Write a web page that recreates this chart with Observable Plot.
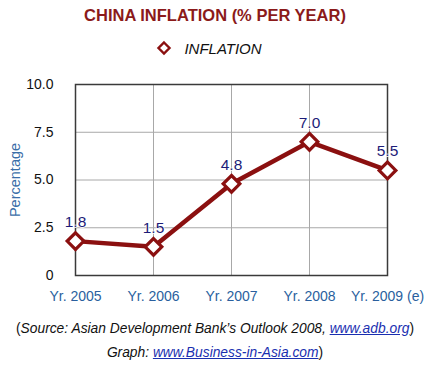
<!DOCTYPE html>
<html>
<head>
<meta charset="utf-8">
<script src="https://cdn.jsdelivr.net/npm/d3@7"></script>
<script src="https://cdn.jsdelivr.net/npm/@observablehq/plot@0.6"></script>
<style>
  body { margin: 0; background: #fff; font-family: "Liberation Sans", Arial, Helvetica, sans-serif; }
  #wrap { width: 430px; position: relative; }
  .title { height: 30px; line-height: 30px; text-align: center; color: #8b1a1a; font-weight: bold; font-size: 16.5px; }
  .legend { height: 36px; display: flex; align-items: center; justify-content: center; font-size: 15px; font-style: italic; color: #111; padding-right: 12px; }
  .legend svg { margin-right: 12px; }
  .cap { text-align: center; font-size: 13.8px; color: #111; }
  .cap a { color: #1a2fb0; text-decoration: underline; }
  .cap1 { margin-top: 1px; height: 24px; line-height: 24px; }
  .cap2 { height: 24px; line-height: 24px; }
  svg text { font-family: "Liberation Sans", Arial, Helvetica, sans-serif; }
</style>
</head>
<body>
<div id="wrap">
  <div class="title">CHINA INFLATION (% PER YEAR)</div>
  <div class="legend"><svg width="16" height="16" viewBox="-8 -8 16 16"><path d="M0,-5.5L5.5,0L0,5.5L-5.5,0Z" fill="#fff" stroke="#8b1010" stroke-width="2.4"/></svg><span>INFLATION</span></div>
  <div id="chart"></div>
  <div class="cap cap1">(<i>Source: Asian Development Bank’s Outlook 2008, <a>www.adb.org</a></i>)</div>
  <div class="cap cap2"><i>Graph: <a>www.Business-in-Asia.com</a></i>)</div>
</div>
<script>
const years = ["Yr. 2005", "Yr. 2006", "Yr. 2007", "Yr. 2008", "Yr. 2009 (e)"];
const inflation = [1.8, 1.5, 4.8, 7.0, 5.5];
const yTicks = [0, 2.5, 5, 7.5, 10];

const data = years.map((y, i) => ({year: y, value: inflation[i]}));
const lineColor = "#8b1010";

const chart = Plot.plot({
  width: 430,
  height: 250,
  marginTop: 18,
  marginBottom: 41,
  marginLeft: 75,
  marginRight: 43,
  x: {type: "point", domain: years, padding: 0},
  y: {domain: [0, 10]},
  marks: [
    Plot.gridY(yTicks.filter(d => d > 0 && d < 10), {stroke: "#a8a8a8", strokeOpacity: 1, strokeWidth: 1}),
    Plot.gridX(years.slice(1, -1), {stroke: "#a8a8a8", strokeOpacity: 1, strokeWidth: 1}),
    Plot.frame({stroke: "#3a3a3a", strokeWidth: 1.5}),
    Plot.axisY(yTicks, {tickSize: 0, tickPadding: 22, fontSize: 14, fill: "#111",
      tickFormat: d => d === 0 ? "0" : d.toFixed(1), label: null}),
    Plot.axisY([], {label: "Percentage", labelAnchor: "center", labelArrow: false, labelOffset: 66, fontSize: 14.5, fill: "#3a6ea8"}),
    Plot.axisX(years, {tickSize: 0, tickPadding: 16, fontSize: 14, fill: "#2a5f9e", label: null}),
    Plot.line(data, {x: "year", y: "value", stroke: lineColor, strokeWidth: 4.5}),
    Plot.dot(data, {x: "year", y: "value", symbol: "diamond2", r: 7.5, stroke: lineColor, strokeWidth: 3.2, fill: "#fff"}),
    Plot.text(data, {x: "year", y: "value", text: d => d.value.toFixed(1), dy: -19, fontSize: 15.5, fill: "#1c1c78", stroke: "#fff", strokeWidth: 1.5})
  ]
});
document.getElementById("chart").appendChild(chart);
</script>
</body>
</html>
